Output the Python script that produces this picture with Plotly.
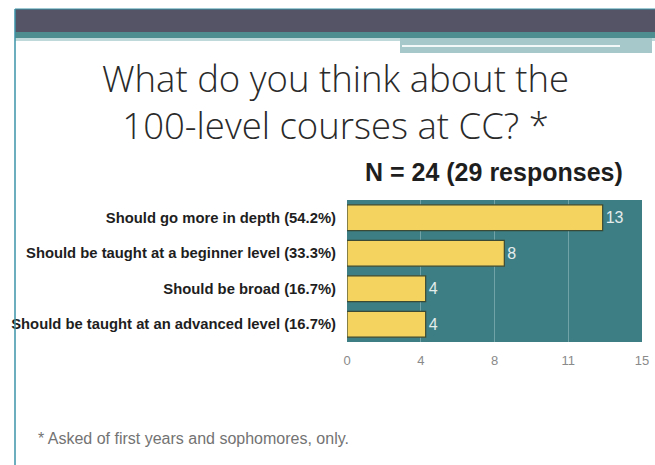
import plotly.graph_objects as go

categories = [
    "Should go more in depth (54.2%)",
    "Should be taught at a beginner level (33.3%)",
    "Should be broad (16.7%)",
    "Should be taught at an advanced level (16.7%)",
]
counts = [13, 8, 4, 4]
tick_vals = [0, 3.75, 7.5, 11.25, 15]
tick_text = ["0", "4", "8", "11", "15"]

W, H = 655, 465
L, R, T, B = 347, 13, 200, 123
pw, ph = W - L - R, H - T - B

def px(x):
    return (x - L) / pw

def py(y):
    return 1 - (y - T) / ph

fig = go.Figure()
fig.add_trace(go.Bar(
    y=categories, x=counts, orientation="h",
    marker=dict(color="#F5D35F", line=dict(color="#3B4A34", width=1.2)),
    text=[str(c) for c in counts], textposition="outside",
    textfont=dict(family="Liberation Sans, Arial", size=16, color="#E4ECEC"),
    cliponaxis=False,
))

shapes = [
    dict(type="rect", xref="paper", yref="paper", x0=px(15), x1=px(655), y0=py(9), y1=py(32),
         fillcolor="#555467", line=dict(width=0), layer="below"),
    dict(type="rect", xref="paper", yref="paper", x0=px(15), x1=px(655), y0=py(32), y1=py(38),
         fillcolor="#4E8D90", line=dict(width=0), layer="below"),
    dict(type="rect", xref="paper", yref="paper", x0=px(15), x1=px(655), y0=py(38), y1=py(41),
         fillcolor="#BFD8D9", line=dict(width=0), layer="below"),
    dict(type="rect", xref="paper", yref="paper", x0=px(400), x1=px(652), y0=py(38), y1=py(53),
         fillcolor="#A7C8CA", line=dict(width=0), layer="below"),
    dict(type="line", xref="paper", yref="paper", x0=px(402), x1=px(620), y0=py(46), y1=py(46),
         line=dict(color="#F2F7F7", width=2), layer="below"),
    dict(type="line", xref="paper", yref="paper", x0=px(15), x1=px(655), y0=py(9), y1=py(9),
         line=dict(color="#3C93A8", width=1.2)),
    dict(type="line", xref="paper", yref="paper", x0=px(15), x1=px(15), y0=py(9), y1=py(465),
         line=dict(color="#3C93A8", width=1.5)),
]

annotations = [
    dict(text="What do you think about the<br>100-level courses at CC? *", x=px(335), y=py(101),
         xref="paper", yref="paper", showarrow=False, xanchor="center", yanchor="middle",
         font=dict(family="Open Sans, Liberation Sans", size=36.5, color="#2A2A2A", weight=300),
         align="center"),
    dict(text="<b>N = 24 (29 responses)</b>", x=px(494), y=py(172), xref="paper", yref="paper",
         showarrow=False, xanchor="center", yanchor="middle",
         font=dict(family="Liberation Sans, Arial", size=25, color="#1E1E1E")),
    dict(text="* Asked of first years and sophomores, only.", x=px(36), y=py(438),
         xref="paper", yref="paper", showarrow=False, xanchor="left", yanchor="middle",
         font=dict(family="Liberation Sans, Arial", size=16, color="#737373")),
]

fig.update_layout(
    width=W, height=H,
    margin=dict(l=L, r=R, t=T, b=B, autoexpand=False),
    paper_bgcolor="white", plot_bgcolor="#3D7E84",
    bargap=0.27, showlegend=False,
    shapes=shapes, annotations=annotations,
    xaxis=dict(range=[0, 15], tickvals=tick_vals, ticktext=tick_text,
               showgrid=True, gridcolor="#6FA3A8", gridwidth=1, zeroline=False,
               tickfont=dict(family="Liberation Sans, Arial", size=13, color="#8A8A8A"),
               ticks="", ticklabelstandoff=9, automargin=False),
    yaxis=dict(autorange="reversed", showgrid=False, automargin=False,
               tickfont=dict(family="Liberation Sans, Arial", size=14.8, color="#1E1E1E", weight="bold"),
               ticks="", ticklabelstandoff=10),
)

fig.write_html("out.html")
